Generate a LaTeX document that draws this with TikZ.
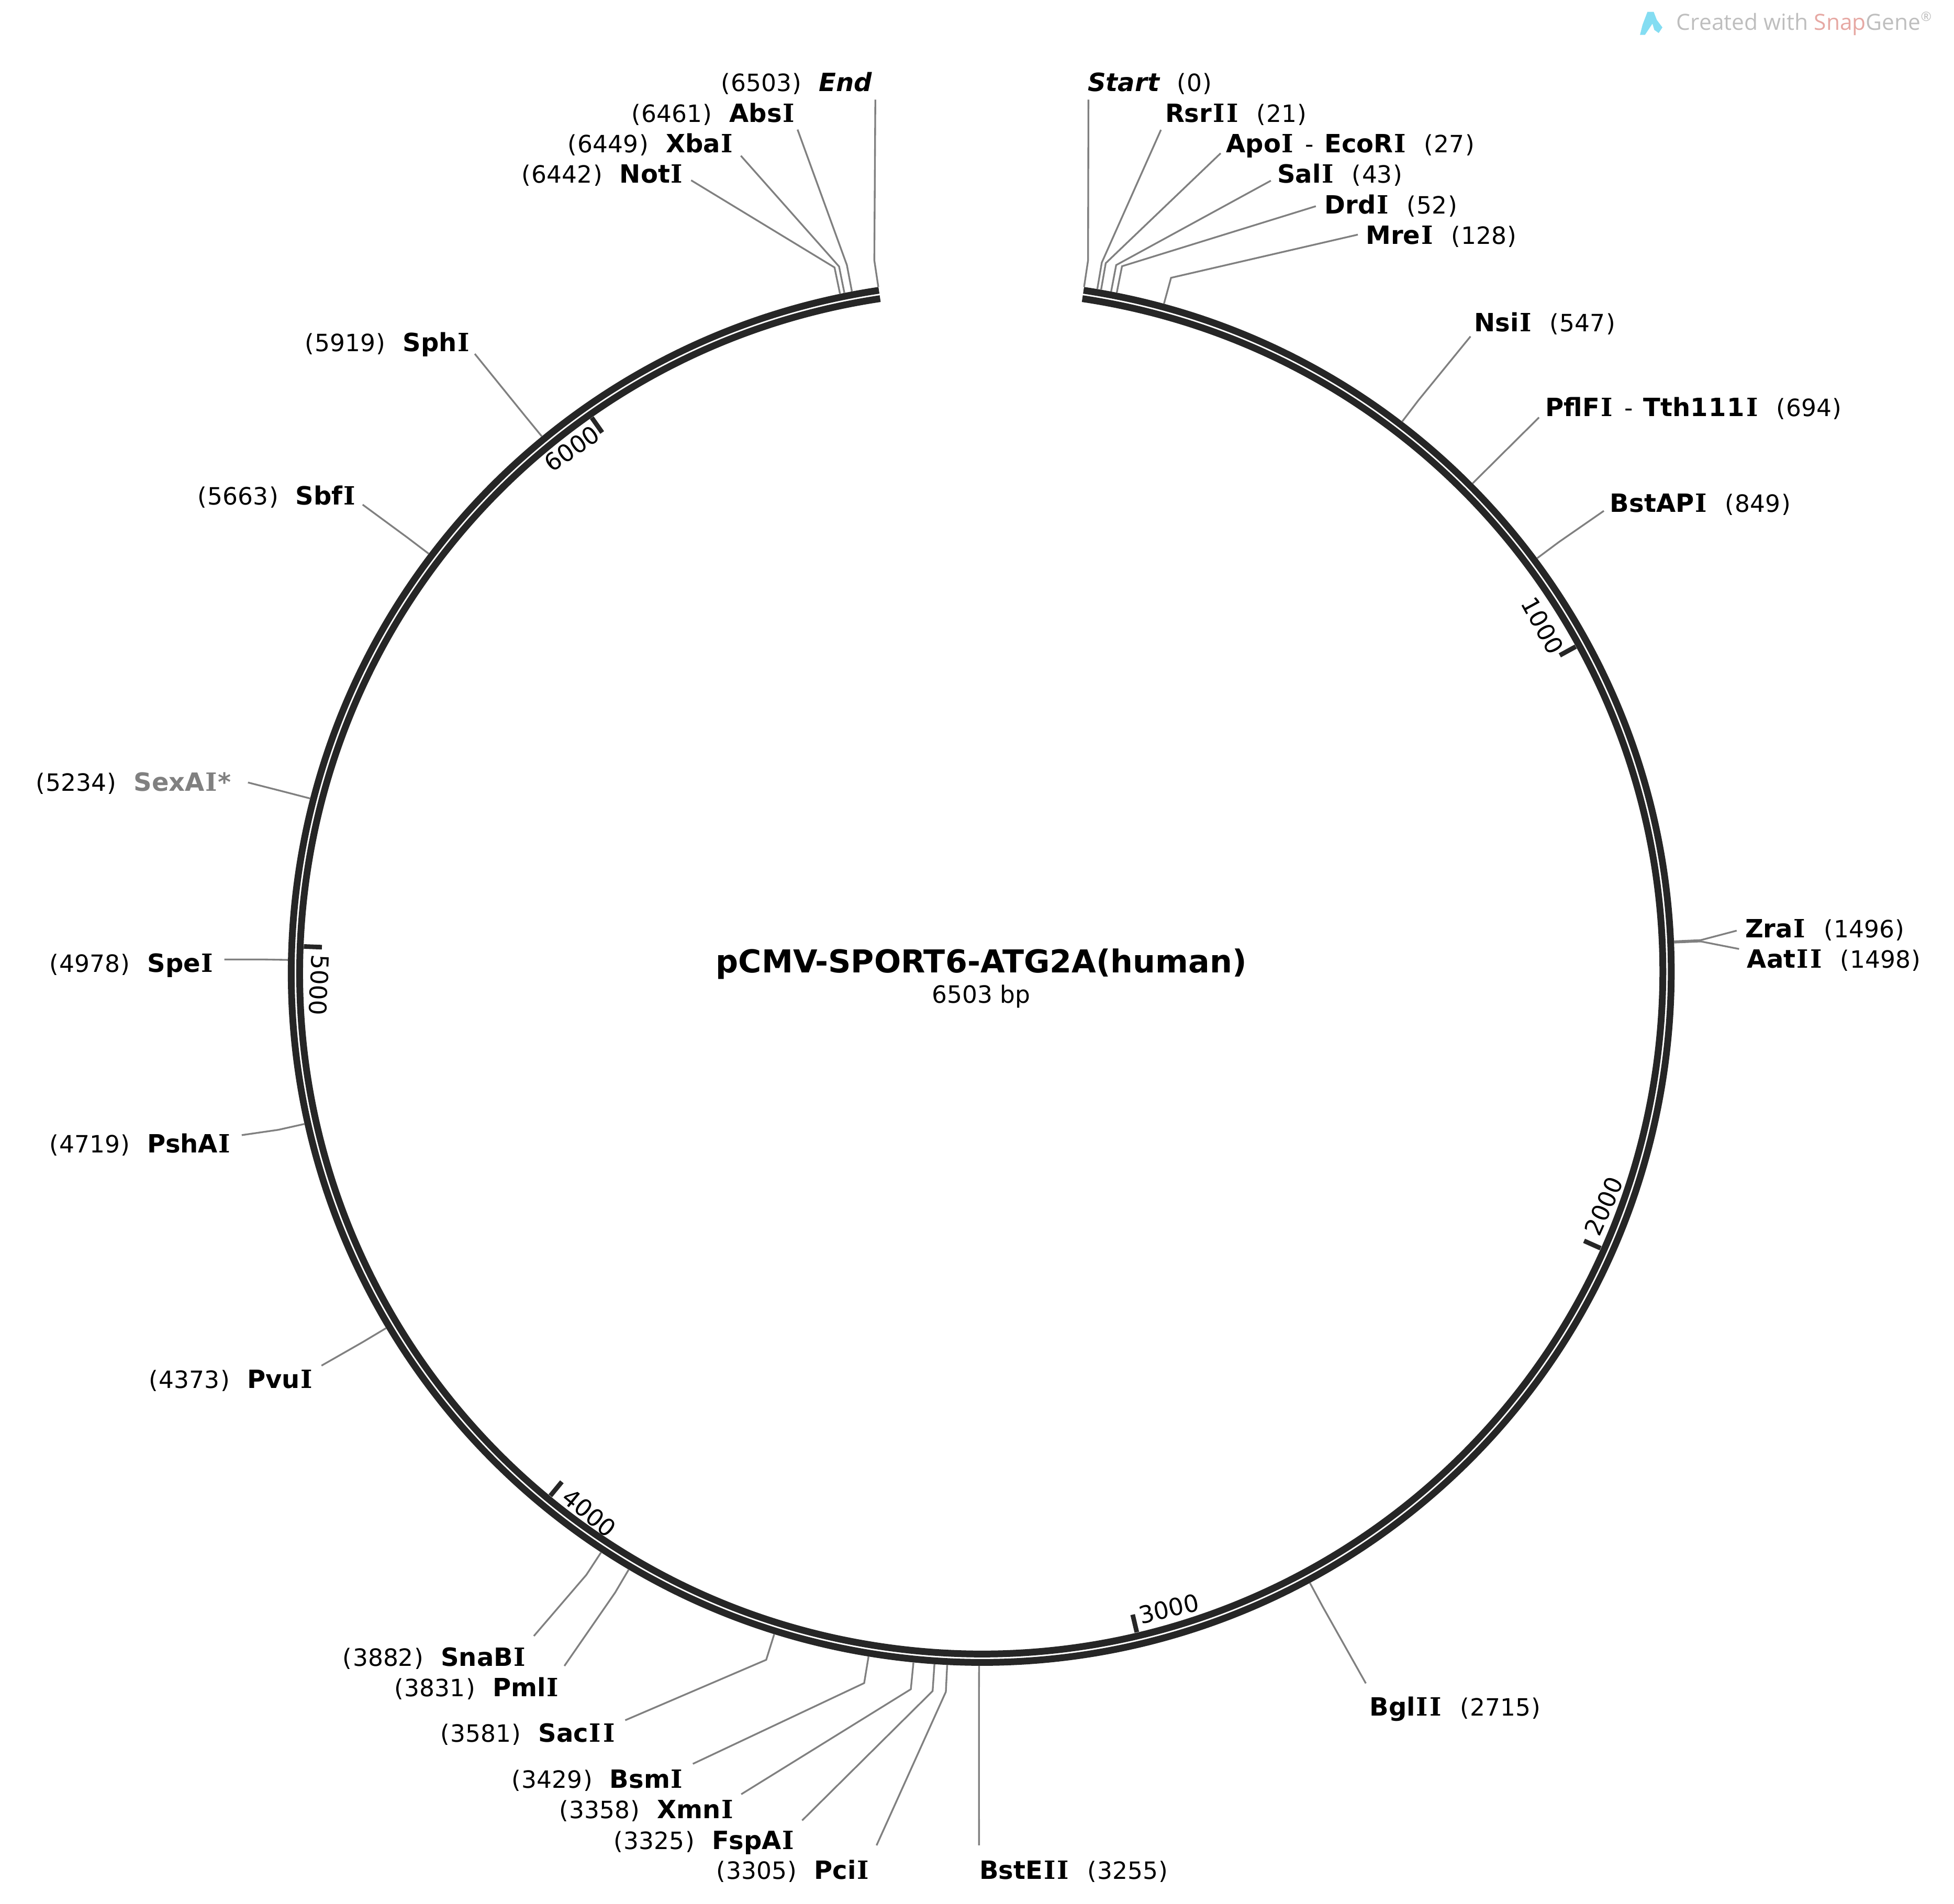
\documentclass[tikz,border=0pt]{standalone}
\usepackage{fontspec}
\setmainfont{DejaVu Sans}
\newfontfamily\slabfam{DejaVu Serif}
\newfontfamily\wmfam{Open Sans}
\usetikzlibrary{calc}
\definecolor{ringcol}{HTML}{262626}
\definecolor{leadcol}{HTML}{808080}
\definecolor{sexcol}{HTML}{808080}
\definecolor{wmgray}{HTML}{BEBEBE}
\definecolor{wmred}{HTML}{E6A8A3}
\definecolor{wmblue}{HTML}{84DDF2}
\newcommand\vI{\kern.037em{\slabfam I}\kern.037em}
\newcommand\nmfont{\fontsize{13.66pt}{16pt}\selectfont\bfseries}
\newcommand\numfont{\fontsize{12.95pt}{16pt}\selectfont\mdseries}
\newcommand\posn[1]{{\numfont\kern.032em(\kern.032em#1\kern.032em)\kern.032em}}
\newcommand\midhy{{\numfont\hspace{.13em}\ -\ \hspace{.13em}}}
\newcommand\bpangle[1]{(8.53+(#1)*0.052735)}
% right-hand label: name then number
\newcommand\rlab[5]{\node[sitelabel] (#1) at (#2,#3) {{\nmfont #4}\hspace{.9em}\posn{#5}};}
% left-hand label: number then name
\newcommand\llab[5]{\node[sitelabel] (#1) at (#2,#3) {\posn{#5}\hspace{.9em}{\nmfont #4}};}
% leader from a label end, via a knee, to the ring
\newcommand\leader[4]{%
  \coordinate (#1e) at (#3,#4);
  \coordinate (#1k) at ({\cx+578*sin(\bpangle{#2})},{\cy-578*cos(\bpangle{#2})});
  \coordinate (#1r) at ({\cx+556.4*sin(\bpangle{#2})},{\cy-556.4*cos(\bpangle{#2})});
  \draw[leaderline] (#1e) -- (#1k) -- (#1r);}
\newcommand\tickmark[5]{%
  \coordinate (t#1a) at ({\cx+544*sin(\bpangle{#1})},{\cy-544*cos(\bpangle{#1})});
  \coordinate (t#1b) at ({\cx+529.5*sin(\bpangle{#1})},{\cy-529.5*cos(\bpangle{#1})});
  \draw[tickline] (t#1a) -- (t#1b);
  \node[ticklabel,rotate=#5] (l#1) at (#3,#4) {#1};}
\tikzset{
  sitelabel/.style={anchor=base west,inner sep=0pt,outer sep=0pt,text=black},
  leaderline/.style={draw=leadcol,line width=.95pt,line join=miter},
  ringline/.style={draw=ringcol,line width=5.45*0.0238074cm,line cap=butt},
  tickline/.style={draw=ringcol,line width=3.7*0.0238074cm,line cap=butt},
  ticklabel/.style={inner sep=0pt,font=\fontsize{12.95pt}{15pt}\selectfont,text=black},
}
\def\cx{787.4}
\def\cy{780.5}
\begin{document}
\begin{tikzpicture}[x=0.0238074cm,y=-0.0238074cm]
\useasboundingbox (0,0) rectangle (1568,1527.7);
% watermark
\fill[wmblue] (1316,28) -- (1318,20) -- (1322,9.5) -- (1327,9.5) -- (1329.5,16) -- (1334,22) -- (1331,26.5) -- (1327.5,24) -- (1326,19) -- (1320,28) -- cycle;
\node[anchor=base west,inner sep=0pt] (wm) at (1345,24) {\wmfam\fontsize{12.1pt}{14pt}\selectfont\color{wmgray}Created with {\color{wmred}Snap}Gene\raisebox{.4em}{\fontsize{7pt}{8pt}\selectfont ®}};
% ring
\coordinate (ringO) at ({\cx+553.65*sin(8.53)},{\cy-553.65*cos(8.53)});
\coordinate (ringI) at ({\cx+546.9*sin(8.53)},{\cy-546.9*cos(8.53)});
\draw[ringline] (ringO) arc[start angle=81.47,end angle=-261.47,radius=553.65*0.0238074cm];
\draw[ringline] (ringI) arc[start angle=81.47,end angle=-261.47,radius=546.9*0.0238074cm];
% ticks
\tickmark{1000}{}{1238}{502}{-61.2}
\tickmark{2000}{}{1287}{968}{66}
\tickmark{3000}{}{938}{1291}{13.3}
\tickmark{4000}{}{473}{1214}{-39.5}
\tickmark{5000}{}{256}{790.6}{-92.2}
\tickmark{6000}{}{459}{360}{35.1}
% centre
\node[anchor=base,inner sep=0pt,font=\fontsize{17.15pt}{20pt}\selectfont\bfseries] (title) at (787.4,780.5) {pCMV-SPORT6-ATG2A(human)};
\node[anchor=base,inner sep=0pt,font=\fontsize{12.95pt}{15pt}\selectfont] (size) at (787.4,805) {6503 bp};
% labels, right side
\rlab{start}{873}{73.5}{\itshape Start}{0}
\rlab{rsr}{935}{98}{Rsr\vI\vI}{21}
\node[sitelabel] (apo) at (984,122.5) {{\nmfont Apo\vI}\midhy{\nmfont EcoR\vI}\hspace{.9em}\posn{27}};
\rlab{sal}{1025}{147}{Sal\vI}{43}
\rlab{drd}{1063}{171.5}{Drd\vI}{52}
\rlab{mre}{1096}{196}{Mre\vI}{128}
\rlab{nsi}{1183}{266}{Nsi\vI}{547}
\node[sitelabel] (pfl) at (1240,334) {{\nmfont Pfl\kern.02em F\vI}\midhy{\nmfont Tth1\kern.03em 1\kern.03em 1\kern.03em\vI}\hspace{.9em}\posn{694}};
\rlab{bst}{1292}{411}{BstAP\vI}{849}
\rlab{zra}{1400.4}{752.5}{Zra\vI}{1496}
\rlab{aat}{1402}{777}{Aat\vI\vI}{1498}
\rlab{bgl}{1099}{1377}{Bgl\vI\vI}{2715}
\rlab{bste}{786}{1508}{BstE\vI\vI}{3255}
% labels, left side
\llab{end}{578}{73.5}{\itshape End}{6503}
\llab{abs}{506}{98}{Abs\vI}{6461}
\llab{xba}{455}{122.5}{Xba\vI}{6449}
\llab{not}{418}{147}{Not\vI}{6442}
\llab{sph}{244}{282}{Sph\vI}{5919}
\llab{sbf}{158}{405}{Sbf\vI}{5663}
\node[sitelabel] (sex) at (28,635) {\posn{5234}\hspace{.9em}{\nmfont\color{sexcol}SexA\vI*}};
\llab{spe}{39}{780}{Spe\vI}{4978}
\llab{psh}{39}{925}{PshA\vI}{4719}
\llab{pvu}{119}{1114}{Pvu\vI}{4373}
\llab{sna}{274.5}{1337}{SnaB\vI}{3882}
\llab{pml}{316}{1361.7}{Pml\vI}{3831}
\llab{sac}{352.8}{1398}{Sac\vI\vI}{3581}
\llab{bsm}{410}{1435}{Bsm\vI}{3429}
\llab{xmn}{448}{1459.5}{Xmn\vI}{3358}
\llab{fsp}{492}{1484}{FspA\vI}{3325}
\llab{pci}{574}{1508}{Pci\vI}{3305}
% leaders
\leader{start}{0}{873.4}{80}
\leader{rsr}{21}{931.6}{104.2}
\leader{apo}{27}{979.5}{123}
\leader{sal}{43}{1019.8}{145}
\leader{drd}{52}{1055.9}{165.5}
\leader{mre}{128}{1089.6}{188.3}
\leader{nsi}{547}{1180}{270}
\leader{pfl}{694}{1235}{335}
\leader{bst}{849}{1287}{410}
\leader{zra}{1496}{1393.6}{746.9}
\leader{aat}{1498}{1395.5}{761.6}
\leader{bgl}{2715}{1096}{1351}
\leader{bste}{3255}{785.6}{1481}
\leader{pci}{3305}{703.4}{1481}
\leader{fsp}{3325}{643.7}{1461}
\leader{xmn}{3358}{594.8}{1440}
\leader{bsm}{3429}{556}{1415.6}
\leader{sac}{3581}{501.7}{1380.6}
\leader{pml}{3831}{452.9}{1337}
\leader{sna}{3882}{428.4}{1313}
\leader{pvu}{4373}{258}{1096}
\leader{psh}{4719}{194}{911}
\leader{spe}{4978}{180}{770}
\leader{sex}{5234}{199}{628}
\leader{sbf}{5663}{291}{405}
\leader{sph}{5919}{381}{284}
\leader{not}{6442}{554.6}{144.7}
\leader{xba}{6449}{594.5}{125}
\leader{abs}{6461}{640}{104}
\leader{end}{6503}{702.4}{80}
\end{tikzpicture}
\end{document}
